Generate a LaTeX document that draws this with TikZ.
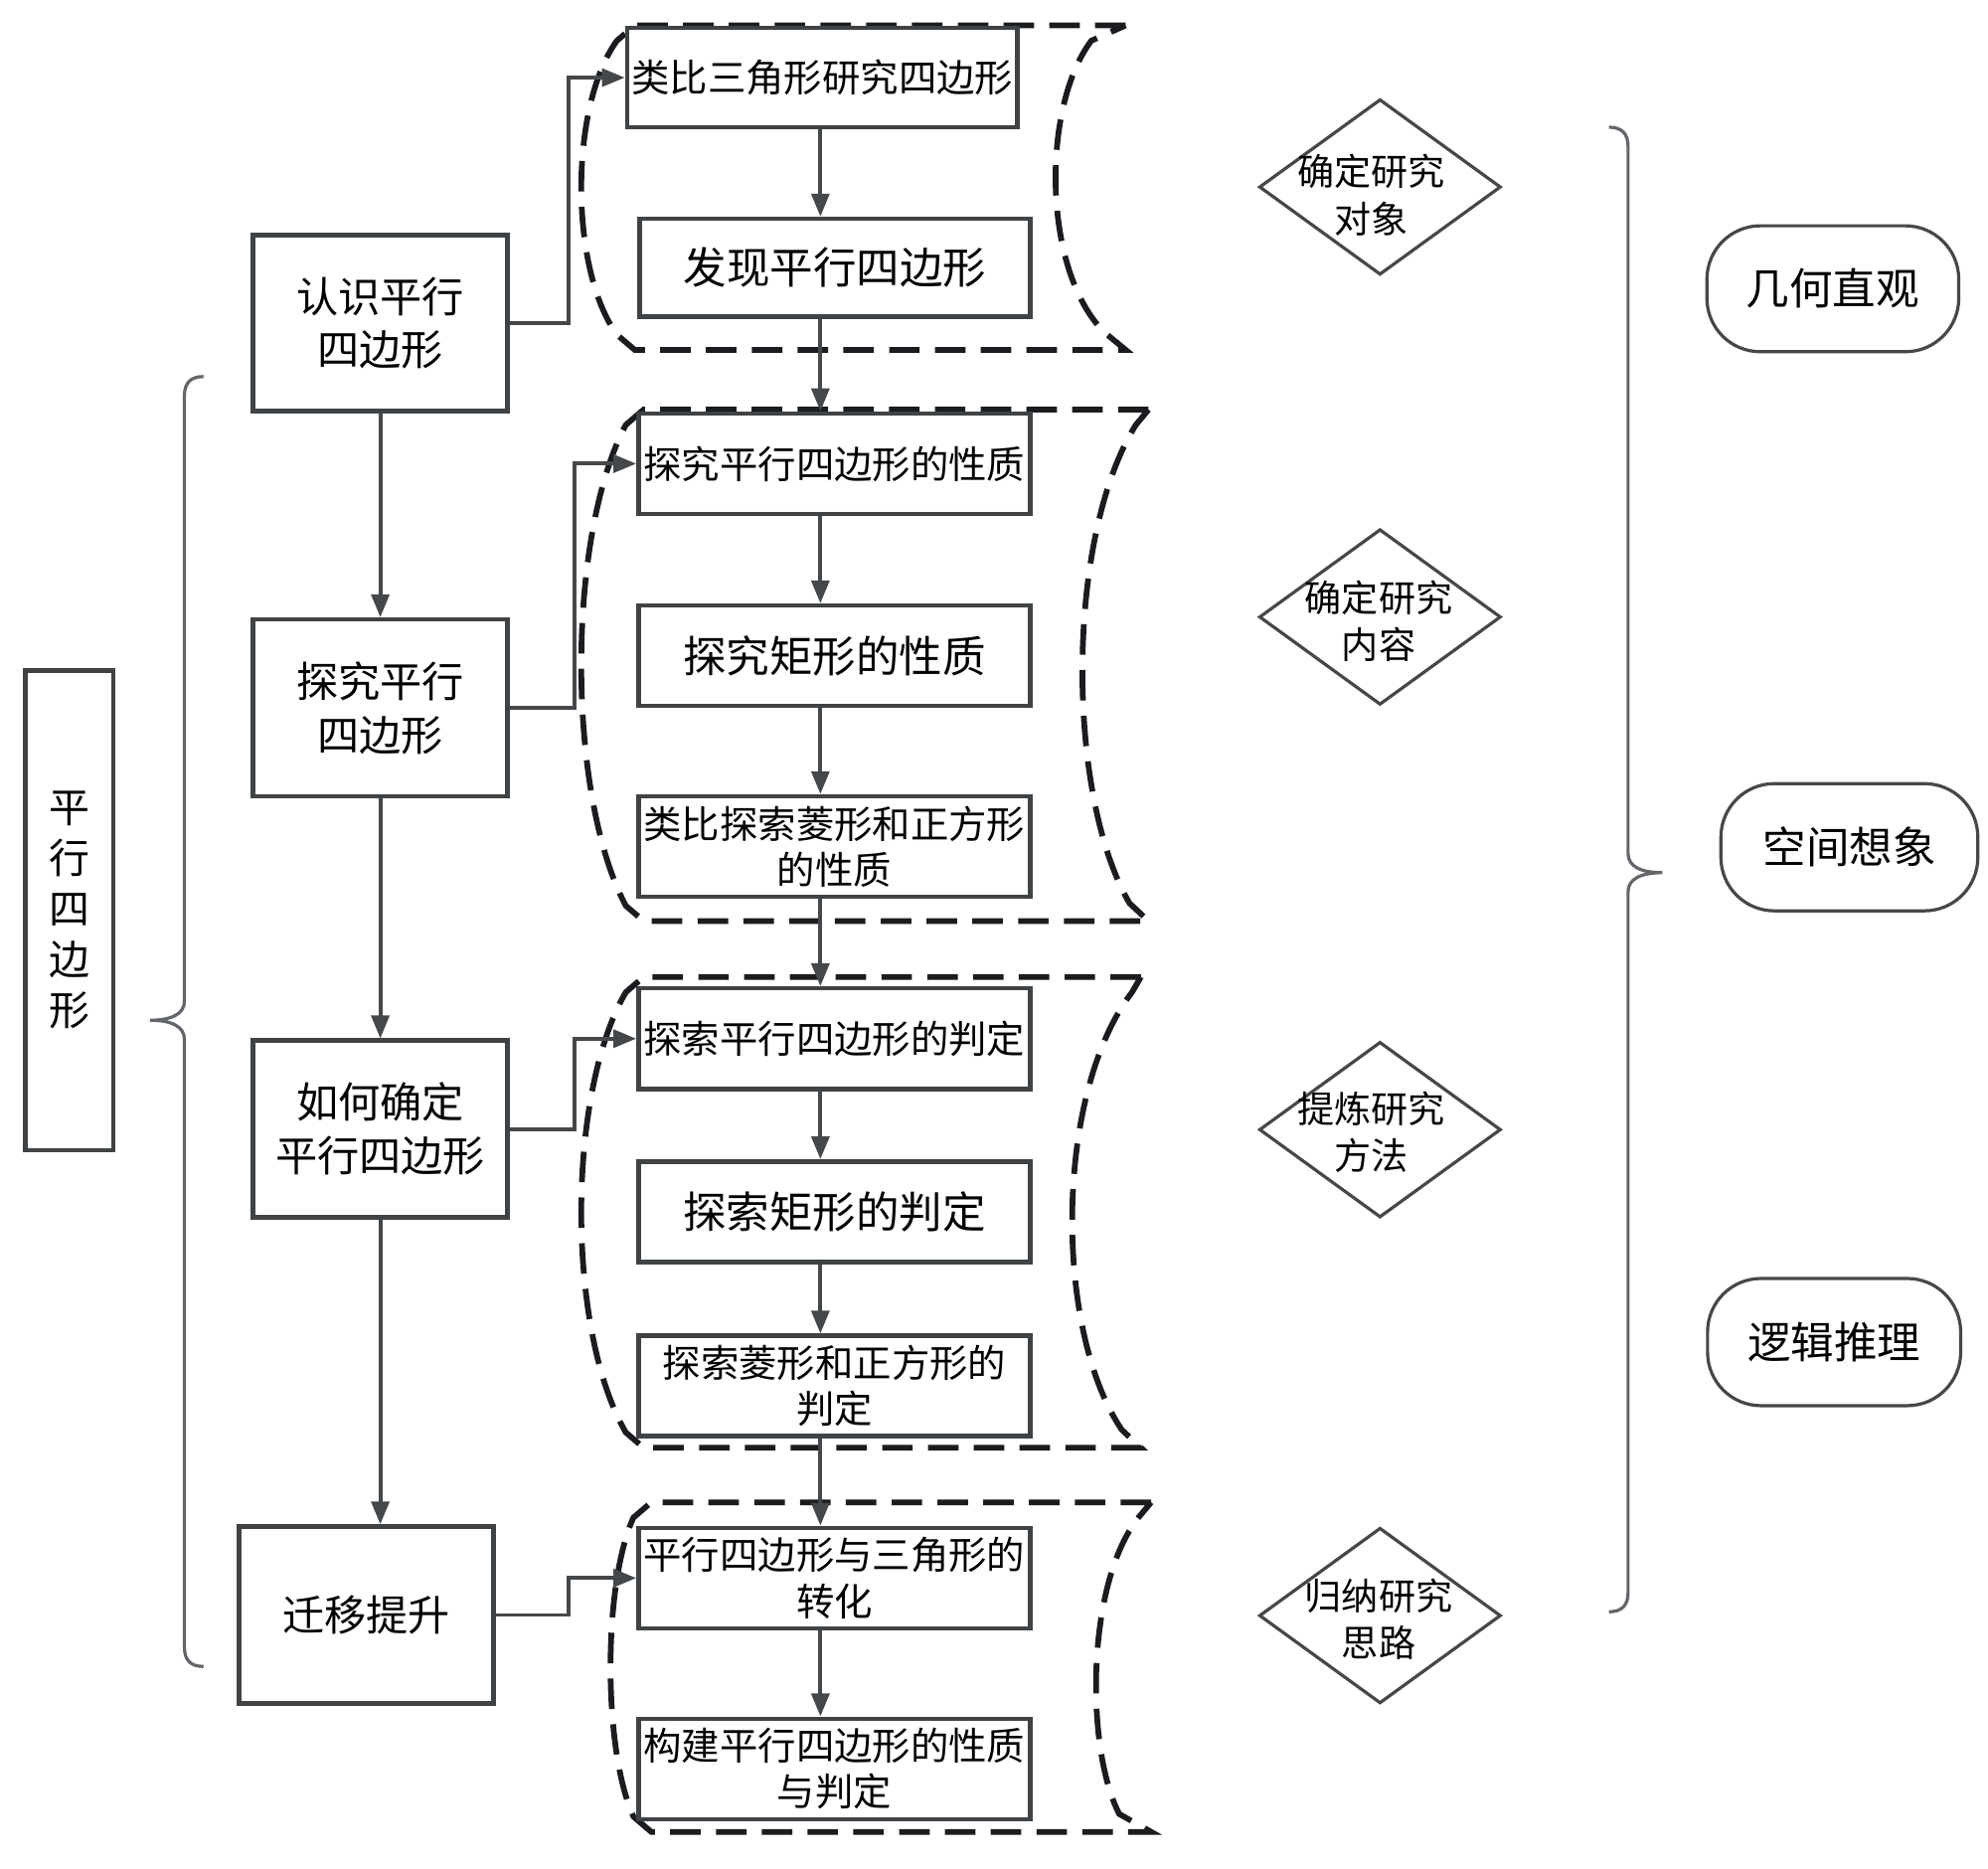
\documentclass[tikz,border=0pt]{standalone}
\usepackage{fontspec}
\setmainfont{Noto Sans CJK SC}
\usetikzlibrary{arrows.meta,shapes.geometric}
\definecolor{boxc}{HTML}{3F4346}
\definecolor{linec}{HTML}{45484B}
\definecolor{dashc}{HTML}{1A1C1F}
\definecolor{bracec}{HTML}{62666A}
\newcommand{\dashgrp}[8]{%
  \draw[dashbox] (#8,#1) -- ({#3+14},#1) -- (#3,{#1+12})
    .. controls ({#3-(#3-#4)*4/3},{#1+(#2-#1)*0.25}) and ({#3-(#3-#4)*4/3},{#2-(#2-#1)*0.25}) .. (#3,{#2-12})
    -- ({#3+14},#2) -- (#8,#2) -- (#7,{#2-14})
    .. controls ({(#6-0.125*(#5+#7))/0.75},{#2-(#2-#1)*0.25}) and ({(#6-0.125*(#5+#7))/0.75},{#1+(#2-#1)*0.25}) .. (#5,{#1+12})
    -- cycle;}
\begin{document}
\begin{tikzpicture}[x=1pt,y=-1pt,
  box/.style={draw=boxc, line width=3.5pt, fill=white, inner sep=0pt, align=center},
  bigtxt/.style={font=\fontsize{33}{42}\selectfont},
  midtxt/.style={font=\fontsize{34}{40}\selectfont},
  smtxt/.style={font=\fontsize{30}{36}\selectfont},
  arr/.style={draw=linec, line width=3pt, -{Triangle[length=18pt,width=14pt]}},
  dashbox/.style={draw=dashc, line width=4.5pt, dash pattern=on 24pt off 12pt},
  dia/.style={diamond, draw=linec, line width=2.5pt, inner sep=0pt, minimum width=190pt, minimum height=138pt},
  diatxt/.style={align=center, inner sep=0pt, font=\fontsize{29}{37}\selectfont},
  pill/.style={draw=linec, line width=2.5pt, rounded corners=42pt, inner sep=0pt, font=\fontsize{34}{40}\selectfont},
  brace/.style={draw=bracec, line width=2.5pt}
]
\useasboundingbox (0,0) rectangle (1563,1469);

% dashed groups: T B L0 Lm Rt Rm Rb E
\dashgrp{20}{275}{485}{457}{858}{830}{868}{885}
\dashgrp{322}{724}{492}{457}{893}{851}{888}{903}
\dashgrp{768}{1138}{492}{457}{890}{843}{882}{897}
\dashgrp{1181}{1440}{498}{480}{895}{862}{880}{905}

% left title box
\node[box, minimum width=69pt, minimum height=377pt, font=\fontsize{32}{40}\selectfont] (P) at (54.5,715.5) {平\\行\\四\\边\\形};

% main column
\node[box, bigtxt, minimum width=200pt, minimum height=138pt] (B1) at (299,254) {认识平行\\四边形};
\node[box, bigtxt, minimum width=200pt, minimum height=139pt] (B2) at (299,556.5) {探究平行\\四边形};
\node[box, bigtxt, minimum width=200pt, minimum height=139pt] (B3) at (299,887.5) {如何确定\\平行四边形};
\node[box, bigtxt, minimum width=200pt, minimum height=139pt] (B4) at (288,1269.5) {迁移提升};

% detail column
\node[box, smtxt, minimum width=307pt, minimum height=78pt] (C1) at (646.5,61) {类比三角形研究四边形};
\node[box, midtxt, minimum width=307pt, minimum height=77pt] (C2) at (656.5,210.5) {发现平行四边形};
\node[box, smtxt, minimum width=308pt, minimum height=79pt] (C3) at (656,364.5) {探究平行四边形的性质};
\node[box, midtxt, minimum width=308pt, minimum height=79pt] (C4) at (656,515.5) {探究矩形的性质};
\node[box, smtxt, minimum width=308pt, minimum height=79pt] (C5) at (656,665.5) {类比探索菱形和正方形\\的性质};
\node[box, smtxt, minimum width=308pt, minimum height=79pt] (C6) at (656,816.5) {探索平行四边形的判定};
\node[box, midtxt, minimum width=308pt, minimum height=79pt] (C7) at (656,952.5) {探索矩形的判定};
\node[box, smtxt, minimum width=308pt, minimum height=79pt] (C8) at (656,1089.5) {探索菱形和正方形的\\判定};
\node[box, smtxt, minimum width=308pt, minimum height=79pt] (C9) at (656,1240.5) {平行四边形与三角形的\\转化};
\node[box, smtxt, minimum width=308pt, minimum height=79pt] (C10) at (656,1390.5) {构建平行四边形的性质\\与判定};

% left chain arrows
\draw[arr] (B1.south) -- (B2.north);
\draw[arr] (B2.south) -- (B3.north);
\draw[arr] (B3.south) -- (B3.south |- B4.north);

% elbow connectors
\draw[arr] (B1.east) -- ++(46,0) |- (C1.west);
\draw[arr] (B2.east) -- ++(51,0) |- (C3.west);
\draw[arr] (B3.east) -- ++(51,0) |- (C6.west);
\draw[arr] (B4.east) -- ++(57,0) |- (C9.west);

% right chain arrows
\coordinate (xr) at (645,0);
\draw[arr] (C1.south -| xr) -- (C2.north -| xr);
\draw[arr] (C2.south -| xr) -- (C3.north -| xr);
\draw[arr] (C3.south -| xr) -- (C4.north -| xr);
\draw[arr] (C4.south -| xr) -- (C5.north -| xr);
\draw[arr] (C5.south -| xr) -- (C6.north -| xr);
\draw[arr] (C6.south -| xr) -- (C7.north -| xr);
\draw[arr] (C7.south -| xr) -- (C8.north -| xr);
\draw[arr] (C8.south -| xr) -- (C9.north -| xr);
\draw[arr] (C9.south -| xr) -- (C10.north -| xr);

% diamonds
\node[dia] (D1) at (1085,147) {};
\node[diatxt] (D1t) at (1078,153.5) {确定研究\\对象};
\node[dia] (D2) at (1085,485) {};
\node[diatxt] (D2t) at (1084,488.5) {确定研究\\内容};
\node[dia] (D3) at (1085,888) {};
\node[diatxt] (D3t) at (1078,890) {提炼研究\\方法};
\node[dia] (D4) at (1085,1270) {};
\node[diatxt] (D4t) at (1084,1273) {归纳研究\\思路};

% pills
\node[pill, minimum width=198pt, minimum height=99pt] (R1) at (1441,227) {几何直观};
\node[pill, minimum width=202pt, minimum height=100pt] (R2) at (1454,666) {空间想象};
\node[pill, minimum width=199pt, minimum height=100pt] (R3) at (1442,1055) {逻辑推理};

% left brace
\draw[brace] (160,296) .. controls (150,296) and (145,301) .. (145,311) -- (145,787)
  .. controls (145,797) and (135,802) .. (118,802)
  .. controls (135,802) and (145,807) .. (145,817) -- (145,1295)
  .. controls (145,1305) and (150,1310) .. (160,1310);
% right brace
\draw[brace] (1265,100) .. controls (1275,100) and (1280,105) .. (1280,115) -- (1280,671)
  .. controls (1280,681) and (1290,686) .. (1307,686)
  .. controls (1290,686) and (1280,691) .. (1280,701) -- (1280,1252)
  .. controls (1280,1262) and (1275,1267) .. (1265,1267);
\end{tikzpicture}
\end{document}
